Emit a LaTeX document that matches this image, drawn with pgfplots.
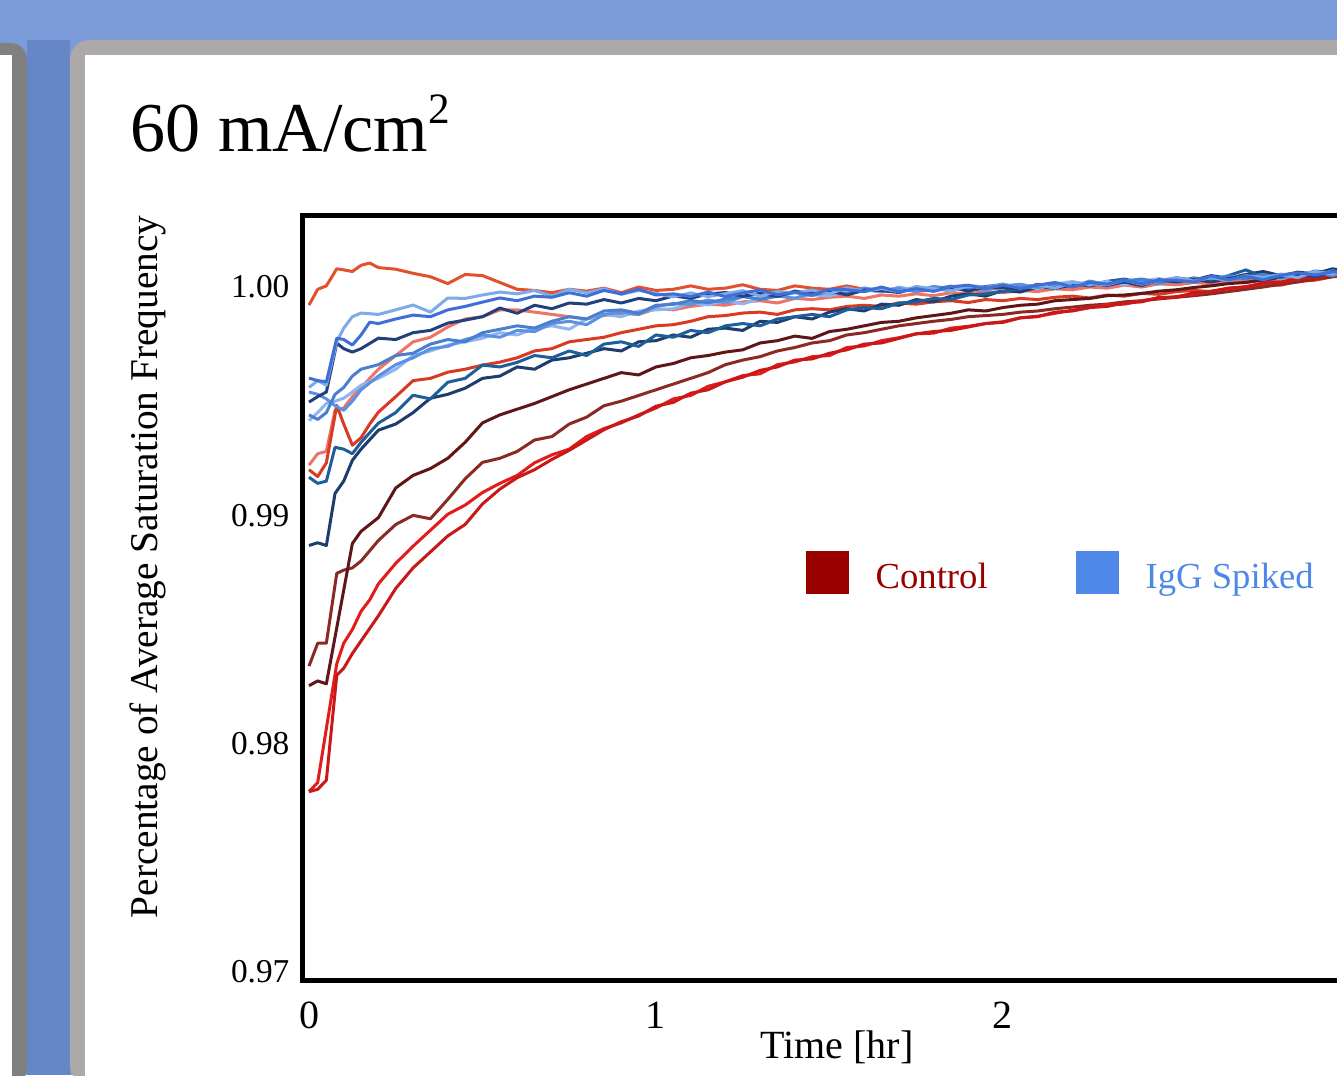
\documentclass[border=0pt]{standalone}
\usepackage{pgfplots}
\pgfplotsset{compat=1.18}
\usepackage{fontspec}
\setmainfont{Liberation Serif}

\definecolor{topblue}{HTML}{7B9BD9}
\definecolor{stripblue}{HTML}{6587C8}
\definecolor{lgray}{HTML}{808080}
\definecolor{pgray}{HTML}{ADA9A9}
% control runs (reds)
\definecolor{rA}{HTML}{E2502E}
\definecolor{rB}{HTML}{EC7565}
\definecolor{rC}{HTML}{D83A22}
\definecolor{rD}{HTML}{8A2A22}
\definecolor{rE}{HTML}{5E1616}
\definecolor{rF}{HTML}{E41B1B}
\definecolor{rG}{HTML}{C81818}
% IgG spiked runs (blues)
\definecolor{bA}{HTML}{3D6FD6}
\definecolor{bB}{HTML}{7EAAEA}
\definecolor{bC}{HTML}{22407C}
\definecolor{bD}{HTML}{8CB6F0}
\definecolor{bE}{HTML}{5B90E2}
\definecolor{bF}{HTML}{4A7FCF}
\definecolor{bG}{HTML}{1F5F99}
\definecolor{bH}{HTML}{1C3D6E}
\definecolor{ctrl}{HTML}{990000}
\definecolor{igg}{HTML}{4D88E8}

\begin{document}
\begin{tikzpicture}
\useasboundingbox (0pt,0pt) rectangle (401.1pt,322.5pt);
\clip (0pt,0pt) rectangle (401.1pt,322.5pt);

% slide background, 1 unit = 1 px of the screenshot
\begin{scope}[x=0.3pt,y=0.3pt]
  \fill[topblue] (0,0) rectangle (1337,1075);
  \fill[stripblue] (27,0) rectangle (70,1035);
  \fill[lgray, rounded corners=5] (-30,-10) rectangle (27,1032);
  \fill[white] (-30,-10) rectangle (12,1020);
  \fill[pgray, rounded corners=6] (70,-10) rectangle (1420,1035);
  \fill[white] (85,-10) rectangle (1420,1020);
  \node[anchor=base west, inner sep=0pt] at (130,923)
    {\fontsize{21}{25}\selectfont 60 mA/cm\raisebox{8.5pt}{\fontsize{13}{15}\selectfont 2}};
\end{scope}

\begin{axis}[
  at={(90.6pt,28.5pt)}, anchor=south west,
  scale only axis,
  width=335.2pt, height=229.5pt,
  xmin=-0.0202, xmax=3.2,
  ymin=0.96965, ymax=1.003154,
  xtick={0,1,2},
  ytick={0.97,0.98,0.99,1.00},
  major tick length=0pt,
  axis line style={black, line width=1.5pt},
  /pgf/number format/assume math mode=true,
  yticklabel style={/pgf/number format/fixed, /pgf/number format/fixed zerofill,
    /pgf/number format/precision=2,
    font=\fontsize{10}{12}\selectfont, anchor=east, inner sep=0pt, xshift=-3.6pt},
  xticklabel style={font=\fontsize{12}{14}\selectfont, anchor=base, inner sep=0pt, yshift=-14.4pt},
  xlabel={Time [hr]},
  xlabel style={font=\fontsize{12}{14}\selectfont, at={(axis description cs:0.4789,-0.10196)}, anchor=base, inner sep=0pt},
  ylabel={Percentage of Average Saturation Frequency},
  ylabel style={font=\fontsize{11.8}{14}\selectfont, at={(axis description cs:-0.1295,1)}, anchor=base east, inner sep=0pt},
  every axis plot/.append style={line width=0.9pt, line join=round, forget plot},
  legend columns=2,
  legend image code/.code={\fill[#1] (0pt,-4.8pt) rectangle (12.9pt,8.1pt);},
  legend style={at={(axis cs:1.4294,0.98748)}, anchor=west, draw=none, fill=none,
    inner sep=0pt, font=\fontsize{11}{13}\selectfont, nodes={inner sep=0pt},
    /tikz/every odd column/.append style={column sep=8.1pt},
    /tikz/every even column/.append style={column sep=26.4pt}},
]

% ---- Control ----
\addplot[rA] coordinates {(0,0.99921)(0.025,0.99990)(0.05,1.00005)(0.08,1.00080)(0.1,1.00075)(0.125,1.00068)(0.15,1.00095)(0.175,1.00105)(0.2,1.00085)(0.25,1.00078)(0.3,1.00060)(0.35,1.00045)(0.4,1.00015)(0.45,1.00055)(0.5,1.00050)(0.55,1.00020)(0.6,0.99990)(0.65,0.99985)(0.7,0.99975)(0.75,0.99990)(0.8,0.99982)(0.85,0.99995)(0.9,0.99975)(0.95,1.00000)(1.0,0.99985)(1.05,0.99990)(1.1,1.00005)(1.15,0.99990)(1.2,0.99995)(1.25,1.00010)(1.3,0.99990)(1.35,0.99985)(1.4,1.00005)(1.45,0.99995)(1.5,0.99990)(1.55,1.00005)(1.6,0.99990)(1.65,0.99985)(1.7,0.99995)(1.75,0.99980)(1.8,0.99990)(1.85,1.00000)(1.9,0.99985)(1.95,0.99995)(2.0,0.99990)(2.05,1.00000)(2.1,0.99990)(2.15,1.00005)(2.2,0.99995)(2.25,1.00005)(2.3,1.00000)(2.35,1.00010)(2.4,1.00000)(2.45,1.00015)(2.5,1.00010)(2.55,1.00020)(2.6,1.00015)(2.65,1.00025)(2.7,1.00020)(2.75,1.00030)(2.8,1.00025)(2.85,1.00040)(2.9,1.00035)(2.95,1.00050)(3.0,1.00045)(3.05,1.00055)};
\addplot[rB] coordinates {(0,0.99220)(0.025,0.99270)(0.05,0.99280)(0.075,0.99460)(0.1,0.99470)(0.125,0.99520)(0.15,0.99560)(0.2,0.99640)(0.25,0.99700)(0.3,0.99760)(0.35,0.99780)(0.4,0.99825)(0.45,0.99860)(0.5,0.99870)(0.55,0.99900)(0.6,0.99900)(0.65,0.99890)(0.7,0.99880)(0.75,0.99870)(0.8,0.99860)(0.85,0.99875)(0.9,0.99885)(0.95,0.99880)(1.0,0.99905)(1.05,0.99900)(1.1,0.99915)(1.15,0.99925)(1.2,0.99920)(1.25,0.99935)(1.3,0.99940)(1.35,0.99930)(1.4,0.99950)(1.45,0.99945)(1.5,0.99955)(1.55,0.99960)(1.6,0.99950)(1.65,0.99965)(1.7,0.99960)(1.75,0.99970)(1.8,0.99962)(1.85,0.99975)(1.9,0.99970)(1.95,0.99980)(2.0,0.99975)(2.05,0.99985)(2.1,0.99980)(2.15,0.99992)(2.2,0.99988)(2.25,1.00000)(2.3,0.99995)(2.35,1.00008)(2.4,1.00002)(2.45,1.00015)(2.5,1.00010)(2.55,1.00022)(2.6,1.00018)(2.65,1.00030)(2.7,1.00026)(2.75,1.00038)(2.8,1.00035)(2.85,1.00046)(2.9,1.00043)(2.95,1.00055)(3.0,1.00052)(3.05,1.00062)};
\addplot[rC] coordinates {(0,0.99200)(0.025,0.99170)(0.05,0.99230)(0.08,0.99482)(0.1,0.99400)(0.125,0.99307)(0.15,0.99340)(0.175,0.99400)(0.2,0.99452)(0.25,0.99520)(0.3,0.99590)(0.35,0.99600)(0.4,0.99627)(0.45,0.99640)(0.5,0.99658)(0.55,0.99671)(0.6,0.99690)(0.65,0.99720)(0.7,0.99730)(0.75,0.99760)(0.8,0.99770)(0.85,0.99780)(0.9,0.99800)(0.95,0.99815)(1.0,0.99830)(1.05,0.99835)(1.1,0.99850)(1.15,0.99870)(1.2,0.99875)(1.25,0.99886)(1.3,0.99890)(1.35,0.99880)(1.4,0.99900)(1.45,0.99905)(1.5,0.99900)(1.55,0.99915)(1.6,0.99920)(1.65,0.99915)(1.7,0.99930)(1.75,0.99925)(1.8,0.99935)(1.85,0.99940)(1.9,0.99932)(1.95,0.99945)(2.0,0.99940)(2.05,0.99950)(2.1,0.99945)(2.15,0.99955)(2.2,0.99960)(2.25,0.99952)(2.3,0.99965)(2.35,0.99960)(2.4,0.99972)(2.45,0.99968)(2.5,0.99980)(2.55,0.99985)(2.6,0.99980)(2.65,0.99995)(2.7,1.00000)(2.75,1.00010)(2.8,1.00008)(2.85,1.00025)(2.9,1.00030)(2.95,1.00045)(3.0,1.00050)(3.05,1.00062)};
\addplot[rD] coordinates {(0,0.98340)(0.025,0.98440)(0.05,0.98440)(0.08,0.98746)(0.1,0.98760)(0.125,0.98770)(0.15,0.98800)(0.2,0.98890)(0.25,0.98960)(0.3,0.99000)(0.35,0.98985)(0.4,0.99070)(0.45,0.99160)(0.5,0.99232)(0.55,0.99250)(0.6,0.99280)(0.65,0.99330)(0.7,0.99345)(0.75,0.99400)(0.8,0.99430)(0.85,0.99480)(0.9,0.99500)(0.95,0.99525)(1.0,0.99550)(1.05,0.99575)(1.1,0.99600)(1.15,0.99625)(1.2,0.99660)(1.25,0.99680)(1.3,0.99695)(1.35,0.99720)(1.4,0.99735)(1.45,0.99755)(1.5,0.99765)(1.55,0.99790)(1.6,0.99800)(1.65,0.99815)(1.7,0.99830)(1.75,0.99840)(1.8,0.99850)(1.85,0.99858)(1.9,0.99870)(1.95,0.99875)(2.0,0.99880)(2.05,0.99890)(2.1,0.99895)(2.15,0.99905)(2.2,0.99912)(2.25,0.99920)(2.3,0.99925)(2.35,0.99935)(2.4,0.99940)(2.45,0.99948)(2.5,0.99955)(2.55,0.99962)(2.6,0.99970)(2.65,0.99980)(2.7,0.99990)(2.75,1.00000)(2.8,1.00012)(2.85,1.00022)(2.9,1.00035)(2.95,1.00045)(3.0,1.00055)(3.05,1.00065)};
\addplot[rE] coordinates {(0,0.98254)(0.025,0.98275)(0.05,0.98262)(0.125,0.98877)(0.15,0.98930)(0.2,0.98990)(0.25,0.99120)(0.3,0.99175)(0.35,0.99205)(0.4,0.99250)(0.45,0.99320)(0.5,0.99405)(0.55,0.99440)(0.6,0.99465)(0.65,0.99490)(0.7,0.99520)(0.75,0.99550)(0.8,0.99575)(0.85,0.99600)(0.9,0.99625)(0.95,0.99615)(1.0,0.99650)(1.05,0.99665)(1.1,0.99690)(1.15,0.99700)(1.2,0.99715)(1.25,0.99725)(1.3,0.99755)(1.35,0.99765)(1.4,0.99785)(1.45,0.99775)(1.5,0.99805)(1.55,0.99815)(1.6,0.99830)(1.65,0.99845)(1.7,0.99850)(1.75,0.99865)(1.8,0.99875)(1.85,0.99885)(1.9,0.99900)(1.95,0.99895)(2.0,0.99910)(2.05,0.99920)(2.1,0.99925)(2.15,0.99940)(2.2,0.99945)(2.25,0.99950)(2.3,0.99962)(2.35,0.99965)(2.4,0.99972)(2.45,0.99982)(2.5,0.99988)(2.55,0.99998)(2.6,1.00005)(2.65,1.00015)(2.7,1.00020)(2.75,1.00032)(2.8,1.00040)(2.85,1.00048)(2.9,1.00058)(2.95,1.00068)(3.0,1.00072)(3.05,1.00082)};
\addplot[rF] coordinates {(0,0.97790)(0.025,0.97830)(0.08,0.98350)(0.1,0.98440)(0.125,0.98500)(0.15,0.98580)(0.175,0.98630)(0.2,0.98700)(0.25,0.98790)(0.3,0.98865)(0.35,0.98935)(0.4,0.99005)(0.45,0.99045)(0.5,0.99100)(0.55,0.99140)(0.6,0.99175)(0.65,0.99230)(0.7,0.99265)(0.75,0.99290)(0.8,0.99345)(0.85,0.99380)(0.9,0.99405)(0.95,0.99440)(1.0,0.99470)(1.05,0.99510)(1.1,0.99525)(1.15,0.99565)(1.2,0.99585)(1.25,0.99612)(1.3,0.99620)(1.35,0.99660)(1.4,0.99672)(1.45,0.99695)(1.5,0.99700)(1.55,0.99735)(1.6,0.99742)(1.65,0.99765)(1.7,0.99778)(1.75,0.99795)(1.8,0.99798)(1.85,0.99820)(1.9,0.99828)(1.95,0.99840)(2.0,0.99848)(2.05,0.99865)(2.1,0.99872)(2.15,0.99885)(2.2,0.99898)(2.25,0.99910)(2.3,0.99922)(2.35,0.99925)(2.4,0.99940)(2.45,0.99952)(2.5,0.99958)(2.55,0.99970)(2.6,0.99982)(2.65,0.99992)(2.7,1.00002)(2.75,1.00015)(2.8,1.00022)(2.85,1.00035)(2.9,1.00042)(2.95,1.00056)(3.0,1.00060)(3.05,1.00070)};
\addplot[rG] coordinates {(0,0.97790)(0.025,0.97800)(0.05,0.97840)(0.08,0.98300)(0.1,0.98330)(0.125,0.98395)(0.15,0.98450)(0.2,0.98560)(0.25,0.98680)(0.3,0.98770)(0.35,0.98840)(0.4,0.98910)(0.45,0.98960)(0.5,0.99050)(0.55,0.99115)(0.6,0.99165)(0.65,0.99200)(0.7,0.99245)(0.75,0.99285)(0.8,0.99330)(0.85,0.99375)(0.9,0.99410)(0.95,0.99435)(1.0,0.99478)(1.05,0.99495)(1.1,0.99535)(1.15,0.99550)(1.2,0.99585)(1.25,0.99605)(1.3,0.99635)(1.35,0.99650)(1.4,0.99680)(1.45,0.99685)(1.5,0.99710)(1.55,0.99725)(1.6,0.99750)(1.65,0.99755)(1.7,0.99775)(1.75,0.99795)(1.8,0.99805)(1.85,0.99810)(1.9,0.99825)(1.95,0.99840)(2.0,0.99845)(2.05,0.99865)(2.1,0.99870)(2.15,0.99890)(2.2,0.99895)(2.25,0.99910)(2.3,0.99915)(2.35,0.99930)(2.4,0.99935)(2.45,0.99955)(2.5,0.99955)(2.55,0.99975)(2.6,0.99980)(2.65,0.99995)(2.7,1.00000)(2.75,1.00018)(2.8,1.00020)(2.85,1.00038)(2.9,1.00040)(2.95,1.00058)(3.0,1.00062)(3.05,1.00072)};

% ---- IgG spiked ----
\addplot[bH] coordinates {(0,0.98868)(0.025,0.98880)(0.05,0.98868)(0.075,0.99096)(0.1,0.99150)(0.125,0.99241)(0.15,0.99290)(0.2,0.99373)(0.25,0.99400)(0.3,0.99450)(0.35,0.99513)(0.4,0.99530)(0.45,0.99557)(0.5,0.99600)(0.55,0.99610)(0.6,0.99650)(0.65,0.99640)(0.7,0.99680)(0.75,0.99690)(0.8,0.99710)(0.85,0.99730)(0.9,0.99720)(0.95,0.99760)(1.0,0.99765)(1.05,0.99790)(1.1,0.99780)(1.15,0.99815)(1.2,0.99820)(1.25,0.99810)(1.3,0.99850)(1.35,0.99845)(1.4,0.99870)(1.45,0.99860)(1.5,0.99890)(1.55,0.99905)(1.6,0.99895)(1.65,0.99925)(1.7,0.99920)(1.75,0.99945)(1.8,0.99935)(1.85,0.99960)(1.9,0.99970)(1.95,0.99960)(2.0,0.99985)(2.05,0.99978)(2.1,1.00000)(2.15,0.99995)(2.2,1.00015)(2.25,1.00005)(2.3,1.00020)(2.35,1.00015)(2.4,1.00032)(2.45,1.00022)(2.5,1.00040)(2.55,1.00030)(2.6,1.00050)(2.65,1.00038)(2.7,1.00055)(2.75,1.00068)(2.8,1.00050)(2.85,1.00065)(2.9,1.00058)(2.95,1.00080)(3.0,1.00066)(3.05,1.00078)};
\addplot[bG] coordinates {(0,0.99167)(0.025,0.99140)(0.05,0.99150)(0.075,0.99298)(0.1,0.99290)(0.125,0.99270)(0.15,0.99320)(0.2,0.99404)(0.25,0.99450)(0.3,0.99526)(0.35,0.99510)(0.4,0.99583)(0.45,0.99600)(0.5,0.99658)(0.55,0.99650)(0.6,0.99670)(0.65,0.99700)(0.7,0.99690)(0.75,0.99720)(0.8,0.99700)(0.85,0.99750)(0.9,0.99760)(0.95,0.99740)(1.0,0.99790)(1.05,0.99780)(1.1,0.99810)(1.15,0.99800)(1.2,0.99830)(1.25,0.99840)(1.3,0.99830)(1.35,0.99860)(1.4,0.99870)(1.45,0.99880)(1.5,0.99870)(1.55,0.99900)(1.6,0.99910)(1.65,0.99905)(1.7,0.99930)(1.75,0.99935)(1.8,0.99950)(1.85,0.99945)(1.9,0.99965)(1.95,0.99970)(2.0,0.99980)(2.05,0.99992)(2.1,1.00010)(2.15,1.00000)(2.2,1.00018)(2.25,1.00008)(2.3,1.00025)(2.35,1.00035)(2.4,1.00018)(2.45,1.00030)(2.5,1.00022)(2.55,1.00040)(2.6,1.00028)(2.65,1.00050)(2.7,1.00075)(2.75,1.00045)(2.8,1.00055)(2.85,1.00048)(2.9,1.00070)(2.95,1.00062)(3.0,1.00075)(3.05,1.00068)};
\addplot[bD] coordinates {(0,0.99415)(0.025,0.99450)(0.05,0.99490)(0.075,0.99500)(0.1,0.99513)(0.125,0.99540)(0.15,0.99570)(0.2,0.99600)(0.25,0.99640)(0.3,0.99700)(0.35,0.99720)(0.4,0.99746)(0.45,0.99760)(0.5,0.99776)(0.55,0.99800)(0.6,0.99790)(0.65,0.99820)(0.7,0.99830)(0.75,0.99815)(0.8,0.99860)(0.85,0.99880)(0.9,0.99870)(0.95,0.99895)(1.0,0.99900)(1.05,0.99905)(1.1,0.99930)(1.15,0.99922)(1.2,0.99941)(1.25,0.99926)(1.3,0.99950)(1.35,0.99964)(1.4,0.99952)(1.45,0.99966)(1.5,0.99961)(1.55,0.99985)(1.6,0.99988)(1.65,0.99977)(1.7,1.00000)(1.75,0.99985)(1.8,0.99999)(1.85,0.99981)(1.9,1.00006)(1.95,1.00001)(2.0,0.99994)(2.05,1.00011)(2.1,0.99993)(2.15,1.00013)(2.2,1.00024)(2.25,1.00009)(2.3,1.00024)(2.35,1.00009)(2.4,1.00025)(2.45,1.00037)(2.5,1.00021)(2.55,1.00036)(2.6,1.00025)(2.65,1.00048)(2.7,1.00038)(2.75,1.00051)(2.8,1.00036)(2.85,1.00056)(2.9,1.00066)(2.95,1.00054)(3.0,1.00073)(3.05,1.00065)};
\addplot[bE] coordinates {(0,0.99540)(0.025,0.99530)(0.05,0.99510)(0.075,0.99480)(0.1,0.99460)(0.125,0.99500)(0.15,0.99550)(0.2,0.99610)(0.25,0.99660)(0.3,0.99690)(0.35,0.99730)(0.4,0.99740)(0.45,0.99770)(0.5,0.99790)(0.55,0.99780)(0.6,0.99810)(0.65,0.99805)(0.7,0.99840)(0.75,0.99850)(0.8,0.99835)(0.85,0.99880)(0.9,0.99890)(0.95,0.99880)(1.0,0.99915)(1.05,0.99928)(1.1,0.99924)(1.15,0.99943)(1.2,0.99931)(1.25,0.99958)(1.3,0.99948)(1.35,0.99961)(1.4,0.99950)(1.45,0.99976)(1.5,0.99974)(1.55,0.99971)(1.6,0.99996)(1.65,0.99982)(1.7,0.99994)(1.75,0.99980)(1.8,1.00003)(1.85,0.99991)(1.9,1.00004)(1.95,0.99986)(2.0,1.00005)(2.05,1.00012)(2.1,0.99998)(2.15,1.00009)(2.2,1.00001)(2.25,1.00026)(2.3,1.00011)(2.35,1.00026)(2.4,1.00025)(2.45,1.00014)(2.5,1.00037)(2.55,1.00027)(2.6,1.00046)(2.65,1.00030)(2.7,1.00045)(2.75,1.00034)(2.8,1.00056)(2.85,1.00053)(2.9,1.00050)(2.95,1.00071)(3.0,1.00055)(3.05,1.00072)};
\addplot[bF] coordinates {(0,0.99440)(0.025,0.99420)(0.05,0.99450)(0.075,0.99530)(0.1,0.99560)(0.125,0.99610)(0.15,0.99640)(0.2,0.99660)(0.25,0.99700)(0.3,0.99710)(0.35,0.99750)(0.4,0.99770)(0.45,0.99760)(0.5,0.99800)(0.55,0.99815)(0.6,0.99830)(0.65,0.99820)(0.7,0.99850)(0.75,0.99870)(0.8,0.99860)(0.85,0.99895)(0.9,0.99900)(0.95,0.99885)(1.0,0.99920)(1.05,0.99924)(1.1,0.99941)(1.15,0.99931)(1.2,0.99947)(1.25,0.99959)(1.3,0.99945)(1.35,0.99960)(1.4,0.99976)(1.45,0.99963)(1.5,0.99981)(1.55,0.99969)(1.6,0.99987)(1.65,0.99995)(1.7,0.99976)(1.75,0.99996)(1.8,0.99990)(1.85,1.00004)(1.9,0.99989)(1.95,1.00002)(2.0,1.00012)(2.05,0.99994)(2.1,1.00005)(2.15,1.00018)(2.2,1.00004)(2.25,1.00016)(2.3,1.00006)(2.35,1.00027)(2.4,1.00035)(2.45,1.00021)(2.5,1.00034)(2.55,1.00022)(2.6,1.00036)(2.65,1.00047)(2.7,1.00035)(2.75,1.00056)(2.8,1.00040)(2.85,1.00055)(2.9,1.00063)(2.95,1.00049)(3.0,1.00070)(3.05,1.00070)};
\addplot[bC] coordinates {(0,0.99496)(0.025,0.99520)(0.05,0.99540)(0.08,0.99754)(0.1,0.99730)(0.125,0.99715)(0.15,0.99730)(0.2,0.99776)(0.25,0.99770)(0.3,0.99800)(0.35,0.99810)(0.4,0.99842)(0.45,0.99855)(0.5,0.99870)(0.55,0.99908)(0.6,0.99885)(0.65,0.99920)(0.7,0.99905)(0.75,0.99930)(0.8,0.99925)(0.85,0.99945)(0.9,0.99930)(0.95,0.99950)(1.0,0.99940)(1.05,0.99961)(1.1,0.99951)(1.15,0.99969)(1.2,0.99976)(1.25,0.99960)(1.3,0.99972)(1.35,0.99959)(1.4,0.99982)(1.45,0.99971)(1.5,0.99984)(1.55,0.99965)(1.6,0.99986)(1.65,0.99984)(1.7,0.99976)(1.75,1.00000)(1.8,0.99984)(1.85,0.99999)(1.9,0.99982)(1.95,0.99999)(2.0,0.99997)(2.05,0.99991)(2.1,1.00012)(2.15,0.99994)(2.2,1.00009)(2.25,1.00019)(2.3,1.00007)(2.35,1.00022)(2.4,1.00006)(2.45,1.00032)(2.5,1.00022)(2.55,1.00033)(2.6,1.00022)(2.65,1.00037)(2.7,1.00049)(2.75,1.00030)(2.8,1.00046)(2.85,1.00057)(2.9,1.00046)(2.95,1.00067)(3.0,1.00057)(3.05,1.00069)};
\addplot[bB] coordinates {(0,0.99560)(0.025,0.99590)(0.05,0.99570)(0.08,0.99760)(0.1,0.99820)(0.125,0.99870)(0.15,0.99886)(0.2,0.99880)(0.25,0.99900)(0.3,0.99921)(0.35,0.99890)(0.4,0.99952)(0.45,0.99950)(0.5,0.99965)(0.55,0.99978)(0.6,0.99970)(0.65,0.99985)(0.7,0.99960)(0.75,0.99990)(0.8,0.99975)(0.85,0.99992)(0.9,0.99968)(0.95,0.99985)(1.0,0.99972)(1.05,0.99957)(1.1,0.99974)(1.15,0.99958)(1.2,0.99971)(1.25,0.99984)(1.3,0.99960)(1.35,0.99980)(1.4,0.99974)(1.45,0.99987)(1.5,0.99970)(1.55,0.99997)(1.6,0.99980)(1.65,0.99993)(1.7,0.99979)(1.75,1.00002)(1.8,0.99993)(1.85,0.99983)(1.9,1.00004)(1.95,0.99995)(2.0,1.00013)(2.05,0.99995)(2.1,1.00009)(2.15,0.99995)(2.2,1.00019)(2.25,1.00015)(2.3,1.00010)(2.35,1.00030)(2.4,1.00012)(2.45,1.00029)(2.5,1.00041)(2.55,1.00026)(2.6,1.00041)(2.65,1.00028)(2.7,1.00050)(2.75,1.00042)(2.8,1.00054)(2.85,1.00041)(2.9,1.00068)(2.95,1.00056)(3.0,1.00072)(3.05,1.00062)};
\addplot[bA] coordinates {(0,0.99601)(0.025,0.99590)(0.05,0.99585)(0.08,0.99776)(0.1,0.99770)(0.125,0.99746)(0.15,0.99790)(0.175,0.99846)(0.2,0.99840)(0.25,0.99860)(0.3,0.99877)(0.35,0.99870)(0.4,0.99900)(0.45,0.99915)(0.5,0.99934)(0.55,0.99952)(0.6,0.99940)(0.65,0.99960)(0.7,0.99955)(0.75,0.99975)(0.8,0.99960)(0.85,0.99985)(0.9,0.99970)(0.95,0.99990)(1.0,0.99965)(1.05,0.99970)(1.1,0.99958)(1.15,0.99978)(1.2,0.99958)(1.25,0.99974)(1.3,0.99987)(1.35,0.99966)(1.4,0.99978)(1.45,0.99966)(1.5,0.99990)(1.55,0.99988)(1.6,0.99980)(1.65,1.00000)(1.7,0.99979)(1.75,0.99993)(1.8,0.99981)(1.85,1.00001)(1.9,1.00008)(1.95,0.99993)(2.0,1.00009)(2.05,0.99995)(2.1,1.00008)(2.15,1.00020)(2.2,1.00000)(2.25,1.00019)(2.3,1.00013)(2.35,1.00030)(2.4,1.00014)(2.45,1.00030)(2.5,1.00030)(2.55,1.00022)(2.6,1.00048)(2.65,1.00031)(2.7,1.00048)(2.75,1.00032)(2.8,1.00051)(2.85,1.00062)(2.9,1.00052)(2.95,1.00067)(3.0,1.00056)(3.05,1.00080)};

\addlegendimage{fill=ctrl, draw=none}
\addlegendentry{\textcolor{ctrl}{Control}}
\addlegendimage{fill=igg, draw=none}
\addlegendentry{\textcolor{igg}{IgG Spiked}}
\end{axis}
\end{tikzpicture}
\end{document}
